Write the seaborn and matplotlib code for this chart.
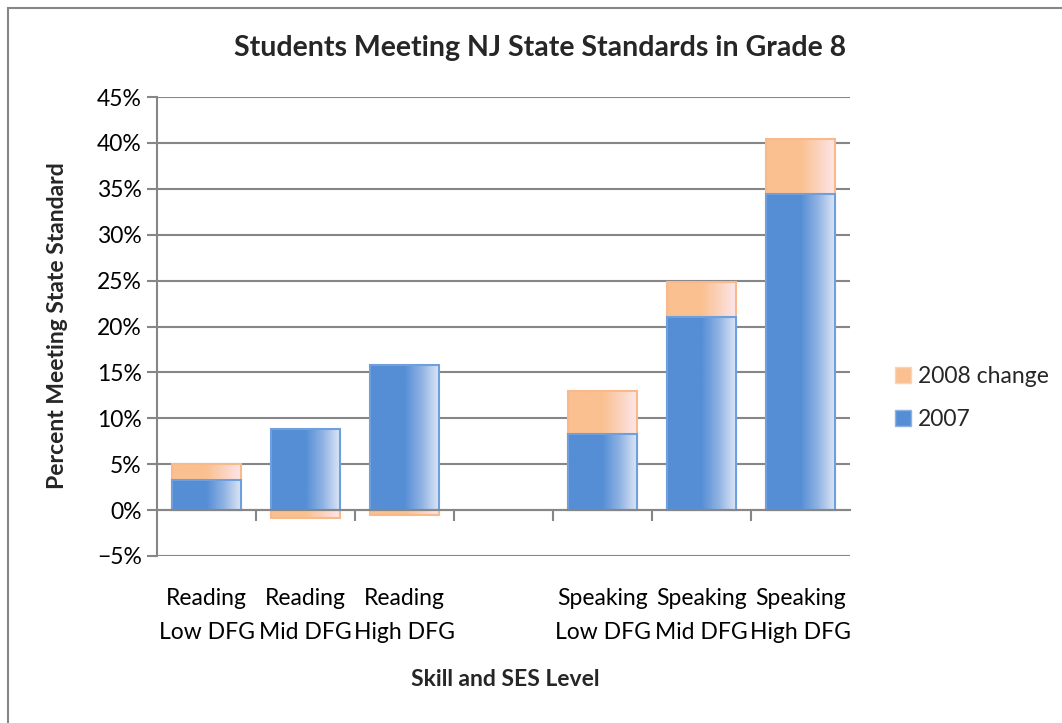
import matplotlib
matplotlib.use("Agg")
import matplotlib.pyplot as plt
import matplotlib.patches as mpatches
from matplotlib.colors import LinearSegmentedColormap
from matplotlib.ticker import FixedLocator, PercentFormatter
import numpy as np
import pandas as pd
import seaborn as sns

categories = ["Reading\nLow DFG", "Reading\nMid DFG", "Reading\nHigh DFG", " ",
              "Speaking\nLow DFG", "Speaking\nMid DFG", "Speaking\nHigh DFG"]
base_2007 = [3.3, 8.8, 15.8, np.nan, 8.3, 21.0, 34.4]
change_2008 = [1.7, -0.9, -0.5, np.nan, 4.7, 3.8, 6.0]

sns.set_theme(style="white")
plt.rcParams["font.family"] = ["Lato", "DejaVu Sans"]

df = pd.DataFrame({"cat": categories, "y2007": base_2007, "chg": change_2008})
# excel stacks negatives down from zero, positives on top of 2007
df["chg_top"] = np.where(df["chg"] > 0, df["y2007"] + df["chg"], df["chg"])

fig = plt.figure(figsize=(10.62, 7.23), dpi=100)
ax = fig.add_axes([157 / 1062, 1 - 556 / 723, 693 / 1062, 459 / 723])

blue_cmap = LinearSegmentedColormap.from_list(
    "b", [(0, "#558ed5"), (0.5, "#558ed5"), (0.75, "#8fb2e3"), (1, "#dbe6f5")])
orange_cmap = LinearSegmentedColormap.from_list(
    "o", [(0, "#fac090"), (0.5, "#fac090"), (0.75, "#fbd2bb"), (1, "#fde6ea")])

n0 = len(ax.patches)
sns.barplot(data=df, x="cat", y="chg_top", order=categories, ax=ax,
            color="#fac090", width=0.69, saturation=1)
orange_bars = ax.patches[n0:]
n1 = len(ax.patches)
sns.barplot(data=df, x="cat", y="y2007", order=categories, ax=ax,
            color="#558ed5", width=0.69, saturation=1)
blue_bars = ax.patches[n1:]


def shade(bars, cmap, edge, z):
    grad = np.linspace(0, 1, 256).reshape(1, -1)
    for p in bars:
        h = p.get_height()
        if not np.isfinite(h) or h == 0:
            continue
        x0, y0, w = p.get_x(), p.get_y(), p.get_width()
        im = ax.imshow(grad, extent=[x0, x0 + w, y0, y0 + h], aspect="auto",
                       cmap=cmap, origin="lower", zorder=z, interpolation="bilinear")
        im.set_clip_path(p)
        p.set_facecolor("none")
        p.set_edgecolor(edge)
        p.set_linewidth(1.5)
        p.set_zorder(z + 0.1)


shade(orange_bars, orange_cmap, "#f9b98a", 2)
shade(blue_bars, blue_cmap, "#6f9fdc", 3)

ax.set_xlim(-0.5, 6.5)
ax.set_ylim(-5, 45)
ax.set_aspect("auto")

grid_c = "#868686"
ax.yaxis.set_major_locator(FixedLocator(np.arange(-5, 46, 5)))
ax.yaxis.set_major_formatter(PercentFormatter(decimals=0))
ax.grid(axis="y", color=grid_c, lw=1.5, zorder=0)
ax.set_axisbelow(True)
for s in ["top", "right"]:
    ax.spines[s].set_visible(False)
ax.spines["left"].set_color(grid_c)
ax.spines["left"].set_linewidth(1.5)
ax.spines["bottom"].set_position(("data", 0))
ax.spines["bottom"].set_color(grid_c)
ax.spines["bottom"].set_linewidth(1.5)
ax.spines["bottom"].set_zorder(4)

ax.tick_params(axis="y", which="major", left=True, length=7, width=1.5, color=grid_c,
               labelsize=16.5, labelcolor="black", pad=4)
ax.set_xticks(range(7))
ax.set_xticklabels(categories, fontsize=16.5, linespacing=1.75)
ax.tick_params(axis="x", which="major", length=0, pad=56, labelcolor="black")
ax.xaxis.set_minor_locator(FixedLocator(np.arange(0.5, 6.5, 1)))
ax.tick_params(axis="x", which="minor", bottom=True, length=8, width=1.5, color=grid_c)
ax.set_xlabel("")
ax.set_ylabel("")

fig.text(540 / 1062, 1 - 48 / 723, "Students Meeting NJ State Standards in Grade 8",
         ha="center", va="center", fontsize=20.5, fontweight="bold")
fig.text(58 / 1062, 1 - 326 / 723, "Percent Meeting State Standard", rotation=90,
         ha="center", va="center", fontsize=16.5, fontweight="bold")
fig.text(505 / 1062, 1 - 680 / 723, "Skill and SES Level",
         ha="center", va="center", fontsize=16.5, fontweight="bold")

handles = [mpatches.Patch(facecolor="#fac090", edgecolor="#fbd2bb", label="2008 change"),
           mpatches.Patch(facecolor="#558ed5", edgecolor="#8fb2e3", label="2007")]
fig.legend(handles=handles, loc="center left", bbox_to_anchor=(886 / 1062, 1 - 398 / 723),
           frameon=False, fontsize=16.5, handlelength=0.7, handleheight=0.7,
           handletextpad=0.3, labelspacing=1.0, borderaxespad=0)

fig.patches.append(mpatches.Rectangle((8 / 1062, -0.05), 1.1, 1 - 8 / 723 + 0.05,
                                      transform=fig.transFigure, fill=False,
                                      edgecolor=grid_c, lw=1.5))

fig.savefig("out.png", dpi=100)
